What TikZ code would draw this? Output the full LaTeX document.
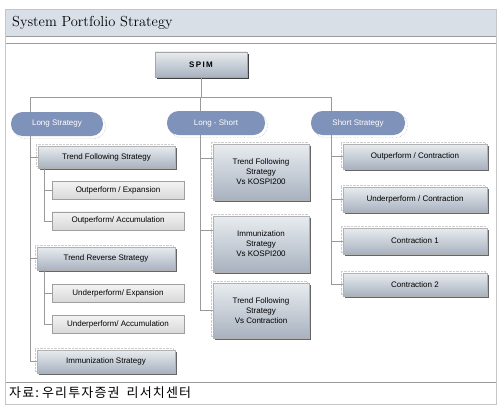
\documentclass[tikz,border=0pt]{standalone}
\usepackage{fontspec}
\usepackage{tikz}
\usetikzlibrary{shapes,arrows,positioning,shadows}
\setsansfont{Liberation Sans}
\newfontfamily\korfont[LetterSpace=9]{Noto Sans CJK KR}
\definecolor{bandfill}{HTML}{D9DFE7}
\definecolor{linegray}{HTML}{9A9A9A}
\definecolor{ovalfill}{HTML}{7F92BA}
\definecolor{boxtop}{HTML}{E8ECF0}
\definecolor{boxbot}{HTML}{A8B2BF}
\definecolor{leaftop}{HTML}{F3F3F3}
\definecolor{leafbot}{HTML}{D8D8D8}
\begin{document}
\begin{tikzpicture}[
    x=1pt, y=-1pt,
    every node/.style={font=\sffamily\fontsize{8}{10}\selectfont, inner sep=0pt, align=center},
    head/.style={rectangle, top color=boxtop, bottom color=boxbot, draw=gray!70,
        minimum width=92pt, minimum height=25pt,
        drop shadow={shadow xshift=2pt, shadow yshift=-2pt, fill=black!75, opacity=1}},
    oval/.style={rectangle, rounded corners=11.5pt, fill=ovalfill, text=white,
        minimum height=24pt,
        general shadow={shadow xshift=2.5pt, shadow yshift=-2.5pt, fill=white, draw=gray!80, densely dotted}},
    block/.style={rectangle, top color=boxtop, bottom color=boxbot, draw=gray!60,
        general shadow={shadow xshift=-2pt, shadow yshift=2pt, fill=white, draw=gray!40, densely dotted},
        drop shadow={shadow xshift=1.5pt, shadow yshift=-1.5pt, fill=black!60, opacity=1}},
    leaf/.style={rectangle, top color=leaftop, bottom color=leafbot, draw=gray!75,
        minimum width=132pt, minimum height=18pt},
    link/.style={draw=linegray, line width=0.7pt}
]
\useasboundingbox (0,0) rectangle (501,412);

% Frame and title
\fill[bandfill] (5,9) rectangle (496,36);
\draw[linegray] (5,36) -- (496,36);
\draw[linegray] (5,43) rectangle (496,382);
\draw[gray!45] (5,9) rectangle (496,404);
\node[anchor=west, font=\fontsize{14.5}{16}\selectfont] (title) at (12,23) {System Portfolio Strategy};
\node[anchor=west, font=\korfont\fontsize{13}{15}\selectfont] (source) at (9,392.5) {자료:\hspace{3pt}우리투자증권\hspace{7pt}리서치센터};

% Root
\node[head] (spim) at (201,64.5) {\textbf{S\,P\,I\,M}};

% Strategy groups
\node[oval, minimum width=92pt] (long) at (57,124) {Long Strategy};
\node[oval, minimum width=98pt] (longshort) at (216,123) {Long - Short};
\node[oval, minimum width=94pt] (short) at (358,123) {Short Strategy};

% Long Strategy
\node[block, minimum width=137pt, minimum height=22pt] (trendfol) at (106.5,157) {Trend Following Strategy};
\node[leaf] (outexp) at (118,190.5) {Outperform / Expansion};
\node[leaf, below=12pt of outexp] (outacc) {Outperform/ Accumulation};
\node[block, minimum width=138pt, minimum height=23pt] (trendrev) at (106,258.5) {Trend Reverse Strategy};
\node[leaf] (underexp) at (118,293.5) {Underperform/ Expansion};
\node[leaf, below=12.5pt of underexp] (underacc) {Underperform/ Accumulation};
\node[block, minimum width=138pt, minimum height=23pt] (immun) at (106,361.5) {Immunization Strategy};

% Long - Short
\node[block, minimum width=96pt, minimum height=56pt] (tfkospi) at (261,172) {Trend Following\\Strategy\\Vs KOSPI200};
\node[block, minimum width=96pt, minimum height=56pt] (imkospi) at (261,244) {Immunization\\Strategy\\Vs KOSPI200};
\node[block, minimum width=96pt, minimum height=55pt] (tfcontr) at (261,310.5) {Trend Following\\Strategy\\Vs Contraction};

% Short Strategy
\node[block, minimum width=144pt, minimum height=25pt] (outcon) at (415,156.5) {Outperform / Contraction};
\node[block, minimum width=144pt, minimum height=25pt] (undercon) at (415,199.5) {Underperform / Contraction};
\node[block, minimum width=144pt, minimum height=26pt] (contr1) at (415,241) {Contraction 1};
\node[block, minimum width=144pt, minimum height=23pt] (contr2) at (415,284.5) {Contraction 2};

% Trunk lines
\coordinate (bus) at (201,97);
\coordinate (longx) at (30,97);
\coordinate (lsx) at (200,97);
\coordinate (shortx) at (331,97);
\coordinate (tfx) at (44,0);
\coordinate (tfin) at ([yshift=14pt]tfkospi.west);
\coordinate (imin) at ([yshift=14pt]imkospi.west);
\draw[link] (spim) -- (bus);
\draw[link] (longx) -- (shortx);
\draw[link] (longx) -- (longx |- long.north);
\draw[link] (lsx) -- (lsx |- longshort.north);
\draw[link] (shortx) -- (shortx |- short.north);

% Long branches
\draw[link] (longx |- long.south) -- (longx |- immun.west) -- (immun.west);
\draw[link] (longx |- trendfol.west) -- (trendfol.west);
\draw[link] (longx |- trendrev.west) -- (trendrev.west);
\draw[link] (tfx |- trendfol.south) -- (tfx |- outacc.west) -- (outacc.west);
\draw[link] (tfx |- outexp.west) -- (outexp.west);
\draw[link] (tfx |- trendrev.south) -- (tfx |- underacc.west) -- (underacc.west);
\draw[link] (tfx |- underexp.west) -- (underexp.west);

% Long - Short branches
\draw[link] (lsx |- longshort.south) -- (lsx |- tfcontr.west) -- (tfcontr.west);
\draw[link] (lsx |- tfin) -- (tfin);
\draw[link] (lsx |- imin) -- (imin);

% Short branches
\draw[link] (shortx |- short.south) -- (shortx |- contr2.west) -- (contr2.west);
\draw[link] (shortx |- outcon.west) -- (outcon.west);
\draw[link] (shortx |- undercon.west) -- (undercon.west);
\draw[link] (shortx |- contr1.west) -- (contr1.west);

\end{tikzpicture}
\end{document}
